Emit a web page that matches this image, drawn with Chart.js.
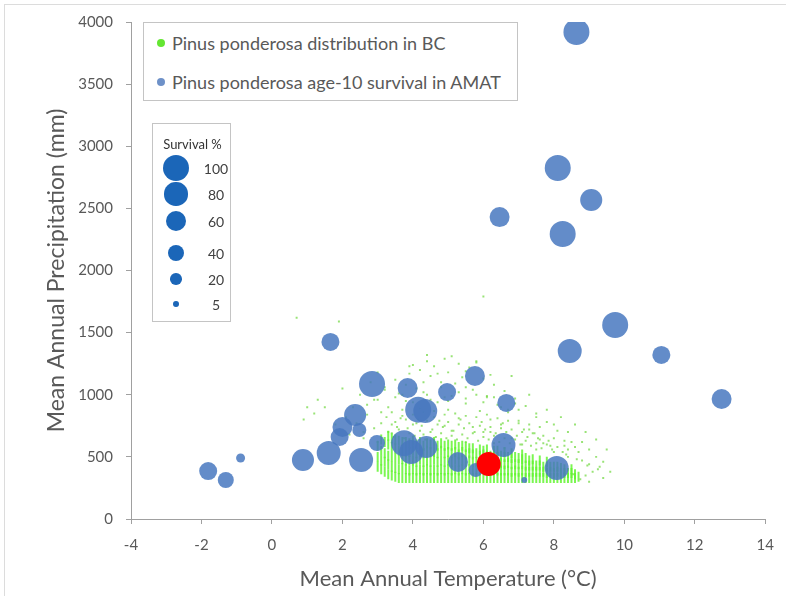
<!DOCTYPE html>
<html><head><meta charset="utf-8">
<script src="https://cdn.jsdelivr.net/npm/chart.js@4.4.1/dist/chart.umd.min.js"></script>
<style>
html,body{margin:0;padding:0;background:#fff;}
#wrap{position:relative;width:786px;height:596px;overflow:hidden;font-family:Lato,'Open Sans',sans-serif;color:#595959;}
#frame{position:absolute;left:4px;top:4px;width:800px;height:600px;border-top:1px solid #dcdcdc;border-left:1px solid #dcdcdc;}
#c{position:absolute;left:0;top:0;}
.box{position:absolute;box-sizing:border-box;background:#fff;border:1px solid #c4c4c4;}
.dot{position:absolute;border-radius:50%;}
.txt{position:absolute;white-space:nowrap;transform:translateY(-50%);}
</style>
</head><body>
<div id="wrap">
<div id="frame"></div>
<canvas id="c" width="786" height="596"></canvas>
<div id="lg1" class="box" style="left:143px;top:22px;width:375px;height:79px;"></div>
<div id="lg2" class="box" style="left:152px;top:123px;width:79px;height:199px;"></div>
</div>
<script>
// ---- AMAT trial sites (blue bubbles) ----
const amatTemp     = [8.64, 8.11, 9.06, 6.46, 8.25, 9.74, 8.45, 11.05, 12.76, 1.66, 2.84, 3.85, 5.76, 4.97, 6.65, 4.15, 4.35, 2.36, 2.0, 1.92, 2.48, 2.98, 2.53, 1.61, 0.88, 3.75, 3.95, 4.38, 5.28, 6.57, 8.08, 5.78, 7.16, -1.81, -1.31, -0.89];
const amatPrecip   = [3920, 2825, 2567, 2430, 2294, 1561, 1352, 1320, 966, 1425, 1086, 1054, 1151, 1022, 934, 880, 870, 837, 740, 660, 716, 612, 475, 531, 475, 610, 540, 580, 459, 596, 410, 394, 314, 386, 314, 491];
const amatSurvival = [100, 100, 72, 59, 100, 100, 85, 48, 59, 48, 100, 59, 59, 48, 48, 100, 85, 72, 59, 48, 29, 38, 85, 85, 72, 100, 85, 72, 59, 85, 85, 29, 5, 48, 38, 12];

// ---- Highlighted site (red) ----
const siteTemp = [6.15];
const sitePrecip = [443];

// ---- Survival % size key ----
const sizeKey = [100, 80, 60, 40, 20, 5];

// ---- Pinus ponderosa distribution in BC (dense core, by temperature column) ----
const bcDenseTemp = [3.0,3.1,3.2,3.3,3.4,3.5,3.6,3.7,3.8,3.9,4.0,4.1,4.2,4.3,4.4,4.5,4.6,4.7,4.8,4.9,5.0,5.1,5.2,5.3,5.4,5.5,5.6,5.7,5.8,5.9,6.0,6.1,6.2,6.3,6.4,6.5,6.6,6.7,6.8,6.9,7.0,7.1,7.2,7.3,7.4,7.5,7.6,7.7,7.8,7.9,8.0,8.1,8.2,8.3,8.4,8.5,8.6,8.7];
const bcDensePrecip = [
 [420,500,590],[400,470,550,640],[380,460,530,620],[360,440,510,600,670],[350,420,500,580,650],
 [340,410,490,570,640],[330,400,480,550,630],[330,410,480,560,620],[330,400,470,540,620],[330,390,470,540,610],
 [330,400,470,550,630],[330,390,460,530,600],[330,400,480,540,620],[330,390,460,530,590],[330,400,470,550,610],
 [330,390,460,540,600],[330,400,480,540,620],[330,390,460,530,590],[330,400,470,550,610],[330,390,460,530,590],
 [330,400,470,540,600],[330,390,460,530,590],[330,400,480,540,600],[330,390,460,520,580],[330,400,470,540,590],
 [330,390,460,520,580],[330,400,470,530,570],[330,390,460,520,570],[330,400,460,530],[330,390,450,510,560],
 [330,400,460,520,550],[330,390,450,510,560],[330,390,450,510],[330,400,460,520,550],[330,390,450,500,550],
 [330,390,450,510],[330,390,440,500,540],[330,390,450,500],[330,380,440,490,530],[330,390,440,500],
 [330,380,440,490],[330,390,440,480,520],[330,380,430,490],[330,380,430,470],[330,380,430,480],
 [330,380,430],[330,380,430,470],[330,380,420],[330,370,420,460],[330,380,420],
 [330,370,420],[330,380,420],[330,370,410],[330,370,400],[330,370],
 [330,370,400],[330,360],[340]
];
// ---- Pinus ponderosa distribution in BC (scattered outer points) ----
const bcSparseTemp = [4.9,5.3,4.6,5.6,4.2,5.0,3.9,4.5,5.4,6.0,3.5,4.8,5.2,6.3,3.2,4.1,5.7,6.6,3.6,4.4,5.1,6.1,6.9,2.9,3.8,4.7,5.5,6.4,7.2,3.3,4.2,5.0,5.9,6.7,7.5,2.7,3.7,4.6,5.3,6.2,7.0,7.8,3.1,4.0,4.9,5.7,6.5,7.3,8.1,2.6,3.4,4.3,5.1,6.0,6.8,7.6,8.3,3.0,4.6,5.5,6.3,7.1,7.9,8.6,8.0,8.4,8.8,9.0,9.3,9.1,8.9,9.4,7.5,6.6,2.3,2.1,1.8,2.5,2.8,1.5,1.2,0.7,1.9,6.0,4.0,3.0,6.8,7.3,7.8,8.2,8.6,8.9,9.2,9.5,4.4,5.8,6.2,3.4,7.7,8.3,
 3.3,3.6,3.9,4.2,4.5,4.8,5.1,5.4,5.7,6.0,6.3,6.6,6.9,7.2,7.5,7.8,8.1,8.4,8.7,
 3.5,3.8,4.1,4.4,4.7,5.0,5.3,5.6,5.9,6.2,6.5,6.8,7.1,7.4,7.7,8.0,8.5,
 3.4,3.7,4.0,4.3,4.6,4.9,5.2,5.5,5.8,6.1,6.4,6.7,7.0,7.3,7.6,
 3.0,3.5,4.0,4.5,5.0,5.5,6.0,6.5,7.0,7.5,8.0,8.4,
 3.2,3.8,4.3,4.8,5.3,5.8,6.3,6.9,
 3.9,4.7,5.5,6.2,4.4,5.1,5.8,
 2.4,2.6,2.2,2.9,2.7,3.1,
 9.0,9.2,9.4,8.8,9.6,9.0,
 0.9,1.3,2.0,1.0,
 3.45,3.75,4.05,4.35,4.65,4.95,5.25,5.55,5.85,6.15,6.45,6.75,7.05,7.35,7.65,7.95,8.25,
 3.55,3.85,4.25,4.55,4.85,5.15,5.45,5.75,6.05,6.35,6.65,6.95,7.25,7.55,7.85,
 3.25,3.65,4.15,4.75,5.35,5.95,6.55,7.15,7.45,
 3.7,4.3,4.9,5.5,6.1,6.7,
 8.35,8.65,8.95,9.25,8.55,8.75];
const bcSparsePrecip = [1290,1250,1230,1220,1200,1180,1170,1150,1140,1130,1120,1100,1090,1080,1060,1050,1040,1030,1010,1000,990,980,970,960,950,940,930,920,910,900,890,880,870,860,850,840,830,820,810,800,790,780,770,760,750,740,730,720,710,700,690,680,670,660,650,640,630,620,640,620,610,600,590,580,540,500,470,440,420,380,350,330,560,570,900,820,760,1000,1100,900,850,1620,1590,1790,1240,1180,1150,1000,880,820,760,700,640,560,1320,1270,700,760,610,590,
 700,720,690,710,700,690,710,680,690,700,670,650,640,630,610,600,580,560,540,
 780,800,770,790,760,780,760,770,750,740,760,720,700,690,670,650,620,
 860,880,840,860,870,840,850,830,820,840,810,790,770,760,740,
 960,980,940,960,950,970,940,900,880,820,760,700,
 1040,1080,1100,1060,1020,1000,980,930,
 1230,1170,1190,1160,1270,1310,1260,
 770,650,680,730,920,860,
 560,500,460,620,380,300,
 800,960,1050,900,
 660,650,670,640,660,650,640,650,630,640,620,610,600,590,570,560,540,
 740,730,750,720,740,710,730,700,720,690,700,670,660,650,630,
 820,810,800,790,800,780,770,720,690,
 1000,1020,980,1060,990,880,
 520,480,430,400,360,320];

// ---- axis ticks ----
const xMin = -4, xMax = 14, xStep = 2;
const yMin = 0, yMax = 4000, yStep = 500;

const TXT = '#595959';
Chart.defaults.font.family = 'Lato';
Chart.defaults.color = TXT;

const maxR = 13;
const sizeFor = s => maxR * Math.sqrt(s / 100);

const densePts = [];
bcDenseTemp.forEach((t, i) => bcDensePrecip[i].forEach(p => densePts.push({x: t, y: p})));
const sparsePts = bcSparseTemp.map((t, i) => ({x: t, y: bcSparsePrecip[i]}));
const amatPts = amatTemp.map((t, i) => ({x: t, y: amatPrecip[i], r: sizeFor(amatSurvival[i])}));
const sitePts = siteTemp.map((t, i) => ({x: t, y: sitePrecip[i], r: 12}));

new Chart(document.getElementById('c'), {
  type: 'bubble',
  data: {
    datasets: [
      {label: 'site', data: sitePts, backgroundColor: '#ff0000', borderWidth: 0, order: 0, clip: 0},
      {label: 'Pinus ponderosa age-10 survival in AMAT', data: amatPts, backgroundColor: 'rgba(72,120,192,0.85)', borderWidth: 0, order: 1, clip: 0},
      {type: 'scatter', label: 'Pinus ponderosa distribution in BC', data: densePts, pointStyle: 'line', rotation: 90, radius: 5, borderWidth: 2, borderColor: 'rgba(100,245,50,0.85)', backgroundColor: 'rgba(100,245,50,0.85)', order: 2},
      {type: 'scatter', label: 'bc sparse', data: sparsePts, pointStyle: 'rect', radius: 1.4, borderWidth: 0, backgroundColor: 'rgba(110,215,60,0.7)', order: 3}
    ]
  },
  options: {
    responsive: false,
    animation: false,
    layout: {padding: {left: 0, right: 13, top: 22, bottom: 0}},
    plugins: {legend: {display: false}, tooltip: {enabled: false}},
    scales: {
      x: {
        type: 'linear', min: xMin, max: xMax,
        ticks: {stepSize: xStep, padding: 12, font: {size: 15}, color: TXT, callback: v => String(v)},
        grid: {drawOnChartArea: false, drawTicks: true, tickLength: 5, color: '#a0a0a0'},
        border: {display: true, color: '#a0a0a0'},
        title: {display: true, text: 'Mean Annual Temperature (°C)', font: {size: 22}, color: TXT, padding: {bottom: 4}},
        afterFit: s => { s.height = 77; }
      },
      y: {
        type: 'linear', min: yMin, max: yMax,
        ticks: {stepSize: yStep, padding: 13, font: {size: 15}, color: TXT, callback: v => String(v)},
        grid: {drawOnChartArea: false, drawTicks: true, tickLength: 5, color: '#a0a0a0'},
        border: {display: true, color: '#a0a0a0'},
        title: {display: true, text: 'Mean Annual Precipitation (mm)', font: {size: 23}, color: TXT, padding: {top: 43}},
        afterFit: s => { s.width = 131; }
      }
    }
  }
});

// ---- legend 1 ----
const lg1 = document.getElementById('lg1');
[
  {label: 'Pinus ponderosa distribution in BC', color: 'rgb(100,230,50)', y: 20},
  {label: 'Pinus ponderosa age-10 survival in AMAT', color: 'rgb(110,145,200)', y: 59}
].forEach(e => {
  const d = document.createElement('div');
  d.className = 'dot';
  d.style.cssText = `left:${17-4}px;top:${e.y-4}px;width:8px;height:8px;background:${e.color};`;
  lg1.appendChild(d);
  const t = document.createElement('div');
  t.className = 'txt';
  t.style.cssText = `left:28px;top:${e.y}px;font-size:18px;`;
  t.textContent = e.label;
  lg1.appendChild(t);
});

// ---- legend 2: Survival % key ----
const lg2 = document.getElementById('lg2');
const ttl = document.createElement('div');
ttl.className = 'txt';
ttl.style.cssText = 'left:0;width:79px;text-align:center;top:20px;font-size:13px;color:#333;';
ttl.textContent = 'Survival %';
lg2.appendChild(ttl);
const keyY = [44, 70, 97, 129, 155, 180];
sizeKey.forEach((s, i) => {
  const r = sizeFor(s);
  const d = document.createElement('div');
  d.className = 'dot';
  d.style.cssText = `left:${23-r}px;top:${keyY[i]-r}px;width:${2*r}px;height:${2*r}px;background:#1b66b8;`;
  lg2.appendChild(d);
  const t = document.createElement('div');
  t.className = 'txt';
  t.style.cssText = `left:45px;width:36px;text-align:center;top:${keyY[i]}px;font-size:14px;color:#404040;`;
  t.textContent = String(s);
  lg2.appendChild(t);
});
</script>
</body></html>
